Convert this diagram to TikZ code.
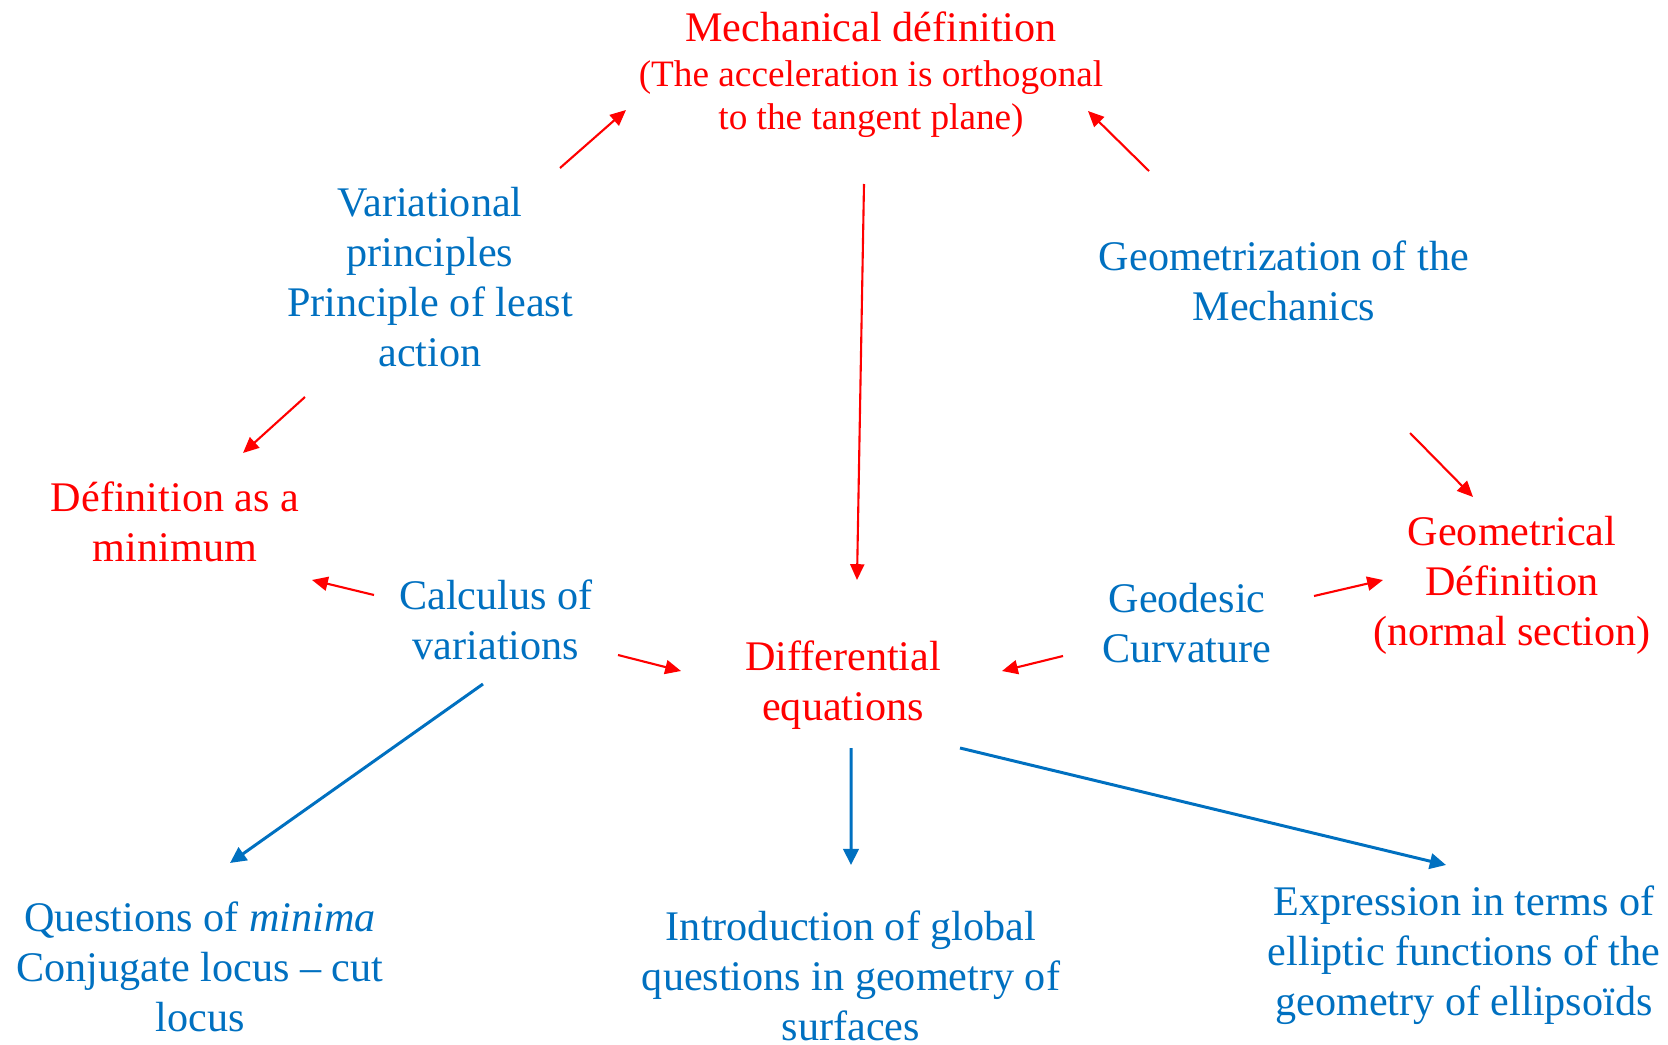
\documentclass[tikz,border=0pt]{standalone}
\usepackage{fontspec}
\setmainfont{Liberation Serif}
\usepackage{xcolor}
\usetikzlibrary{arrows.meta,calc}
\definecolor{myblue}{HTML}{0070C0}

\begin{document}
\begin{tikzpicture}[txt/.style={align=center,font=\fontsize{12}{14.2}\selectfont,inner sep=0pt},
  redtxt/.style={txt,text=red},bluetxt/.style={txt,text=myblue},
  redarrow/.style={draw=red,line width=0.6pt,-{Triangle[length=4.5pt,width=4pt]}},
  bluearrow/.style={draw=myblue,line width=0.85pt,-{Triangle[length=4.6pt,width=4.4pt]}}]
\def\smallfnt{\fontsize{10.6}{12.5}\selectfont}
\useasboundingbox (0,0) rectangle (16.68,-10.45);
% red definitions
\node [redtxt] (mech) at (8.71,-0.75) {Mechanical définition\\[-1.4pt] \smallfnt (The acceleration is orthogonal\\[-1.9pt] \smallfnt to the tangent plane)};
\node [redtxt] (defmin) at (1.75,-5.22) {Définition as a\\ minimum};
\node [redtxt] (geomdef) at (15.12,-5.85) {Geometrical\\ Définition\\ (normal section)};
\node [redtxt] (diff) at (8.43,-6.85) {Differential\\ equations};
% blue topics
\node [bluetxt] (var) at (4.30,-2.77) {Variational\\ principles\\ Principle of least\\ action};
\node [bluetxt] (geom) at (12.84,-2.81) {Geometrization of the\\ Mechanics};
\node [bluetxt] (calcvar) at (4.96,-6.20) {Calculus of\\ variations};
\node [bluetxt] (geod) at (11.87,-6.23) {Geodesic\\ Curvature};
\node [bluetxt] (quest) at (2.00,-9.67) {Questions of \textit{minima}\\ Conjugate locus -- cut\\ locus};
\node [bluetxt] (intro) at (8.51,-9.76) {Introduction of global\\ questions in geometry of\\ surfaces};
\node [bluetxt] (expr) at (14.64,-9.55) {Expression in terms of\\ elliptic functions of the\\ geometry of ellipsoïds};
% arrows
\draw [redarrow] ($(var)+(1.30,1.09)$) -- ($(mech)+(-2.45,-0.35)$);
\draw [redarrow] ($(geom)+(-1.35,1.10)$) -- ($(mech)+(2.17,-0.36)$);
\draw [redarrow] ($(mech)+(-0.07,-1.09)$) -- ($(diff)+(0.14,1.05)$);
\draw [redarrow] ($(var)+(-1.25,-1.20)$) -- ($(defmin)+(0.68,0.69)$);
\draw [redarrow] ($(geom)+(1.26,-1.52)$) -- ($(geomdef)+(-0.39,0.88)$);
\draw [redarrow] ($(calcvar)+(-1.22,0.25)$) -- ($(defmin)+(1.37,-0.58)$);
\draw [redarrow] ($(calcvar)+(1.22,-0.35)$) -- ($(diff)+(-1.62,0.14)$);
\draw [redarrow] ($(geod)+(-1.24,-0.33)$) -- ($(diff)+(1.59,0.14)$);
\draw [redarrow] ($(geod)+(1.27,0.27)$) -- ($(geomdef)+(-1.29,0.05)$);
\draw [bluearrow] ($(calcvar)+(-0.13,-0.64)$) -- ($(quest)+(0.30,1.04)$);
\draw [bluearrow] ($(diff)+(0.08,-0.63)$) -- ($(intro)+(0,1.11)$);
\draw [bluearrow] ($(diff)+(1.17,-0.63)$) -- ($(expr)+(-0.18,0.90)$);
\end{tikzpicture}
\end{document}
